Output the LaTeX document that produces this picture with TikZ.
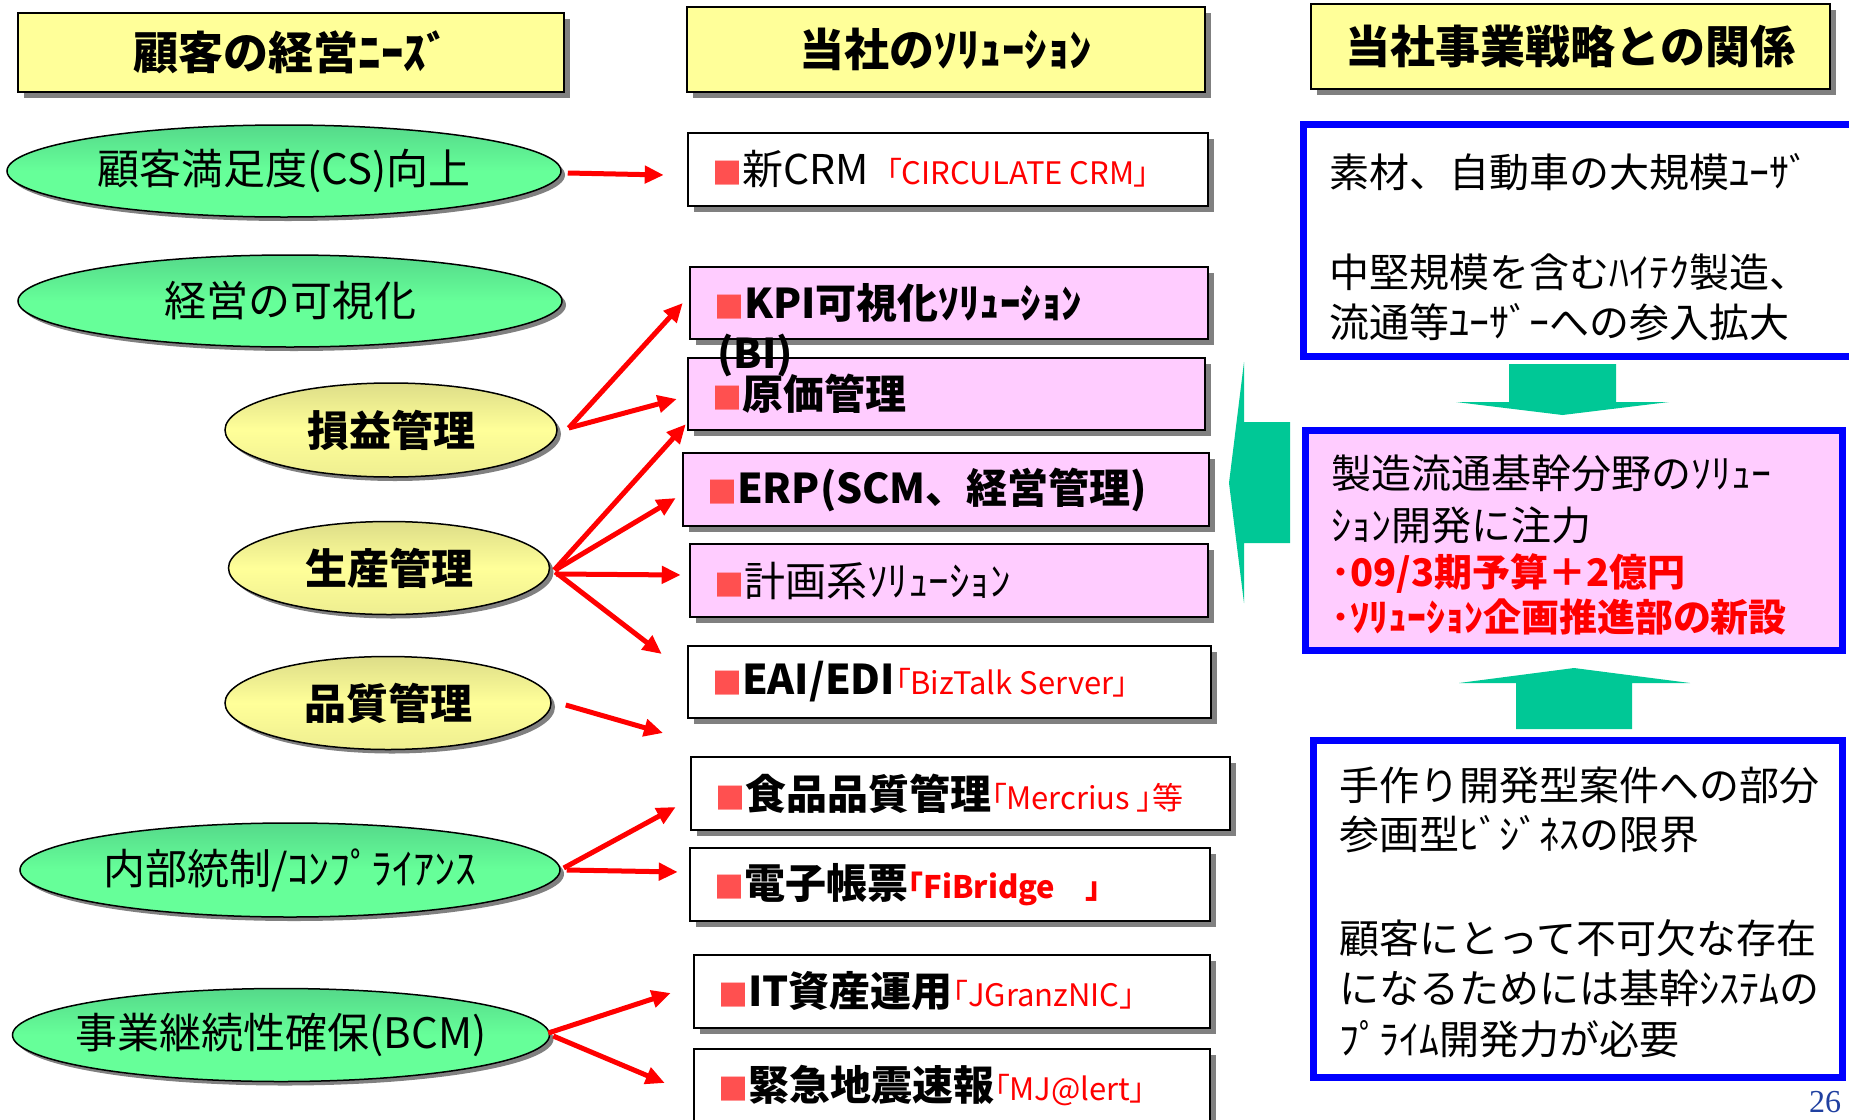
\documentclass[tikz,border=0pt]{standalone}
\usepackage{fontspec}
\setmainfont{Noto Sans CJK JP}
\newfontfamily\jpp{Noto Sans CJK JP}[RawFeature=+palt]
\newfontfamily\pgfnt{Liberation Serif}
\usetikzlibrary{shapes.geometric,shadows,arrows.meta,calc}
\definecolor{hdr}{HTML}{FFFF99}
\definecolor{pinkf}{HTML}{FFCCFF}
\definecolor{greenE}{HTML}{66FF99}
\definecolor{greenT}{HTML}{55D98A}
\definecolor{yelE}{HTML}{FFFF99}
\definecolor{yelT}{HTML}{DDDD88}
\definecolor{arrgreen}{HTML}{00C896}
\definecolor{sq}{HTML}{FF5050}
\definecolor{shd}{HTML}{808080}
\definecolor{pgblue}{HTML}{2040A0}
\definecolor{bluebd}{HTML}{0000FF}
\newcommand{\fsH}{\fontsize{45}{54}\selectfont}
\newcommand{\fsE}{\fontsize{42}{50}\selectfont}
\newcommand{\fsS}{\fontsize{41}{49}\selectfont}
\newcommand{\fsR}{\fontsize{31}{37}\selectfont}
\newcommand{\fsP}{\fontsize{40}{48}\selectfont}
\newcommand{\sqm}{{\fontsize{30}{30}\selectfont\color{sq}■}}
\newcommand{\redt}{\jpp\fsR\color{red}}
\newcommand{\lefttext}[2]{\makebox[#1][l]{#2}}
\begin{document}
\begin{tikzpicture}[x=1pt,y=-1pt,
  hdrbox/.style={draw=black, line width=2pt, fill=hdr, inner sep=0pt, font=\fsH\bfseries,
    drop shadow={shadow xshift=6pt, shadow yshift=-6pt, fill=shd, opacity=1}},
  gell/.style={ellipse, draw=black, line width=1.5pt, top color=greenT, bottom color=greenE, middle color=greenE, inner sep=0pt, font=\fsE,
    drop shadow={shadow xshift=4pt, shadow yshift=-4pt, fill=shd, opacity=1}},
  yell/.style={ellipse, draw=black, line width=1.5pt, top color=yelT, bottom color=yelT!50!yelE, middle color=yelE, inner sep=0pt, font=\fsE\bfseries,
    drop shadow={shadow xshift=4pt, shadow yshift=-4pt, fill=shd, opacity=1}},
  solbox/.style={draw=black, line width=2.5pt, fill=white, inner sep=0pt, font=\fsS,
    drop shadow={shadow xshift=6pt, shadow yshift=-6pt, fill=shd, opacity=1}},
  pinkbox/.style={solbox, fill=pinkf},
  bluebox/.style={draw=bluebd, line width=7pt, fill=white, inner sep=0pt},
  rline/.style={anchor=west, inner sep=0pt, font=\fsP},
  redline/.style={anchor=west, inner sep=0pt, text=red, font=\jpp\fontsize{38}{46}\selectfont\bfseries},
  redarr/.style={draw=red, line width=5pt, -{Triangle[length=19pt,width=17pt]}},
  blockarr/.style={fill=arrgreen, draw=none}
]
\useasboundingbox (0,0) rectangle (1849,1119);
\fill[white] (0,0) rectangle (1849,1119);

% headers
\node[hdrbox, minimum width=546pt, minimum height=79pt] (h1) at (291,52.5) {顧客の経営ﾆｰｽﾞ};
\node[hdrbox, minimum width=518pt, minimum height=85pt] (h2) at (946,49.5) {当社のｿﾘｭｰｼｮﾝ};
\node[hdrbox, minimum width=519pt, minimum height=85pt] (h3) at (1570.5,46.5) {当社事業戦略との関係};

% needs ellipses
\node[gell, minimum width=554pt, minimum height=92pt] (e1) at (284,171) {\makebox[0pt]{顧客満足度(CS)向上}};
\node[gell, minimum width=544pt, minimum height=92pt] (e2) at (290,301) {\makebox[0pt]{経営の可視化}};
\node[yell, minimum width=332pt, minimum height=94pt] (e3) at (391,430) {\makebox[0pt]{損益管理}};
\node[yell, minimum width=321pt, minimum height=93pt] (e4) at (389,568) {\makebox[0pt]{生産管理}};
\node[yell, minimum width=326pt, minimum height=93pt] (e5) at (388,703) {\makebox[0pt]{品質管理}};
\node[gell, minimum width=540pt, minimum height=94pt] (e6) at (290,870) {\makebox[0pt]{内部統制/ｺﾝﾌﾟﾗｲｱﾝｽ}};
\node[gell, minimum width=537pt, minimum height=93pt] (e7) at (281,1035) {\makebox[0pt]{事業継続性確保(BCM)}};

% solution boxes
\node[solbox, minimum width=520pt, minimum height=73pt] (s1) at (948,169.5)
  {\lefttext{472pt}{\sqm 新CRM\hspace{18pt}{\redt 「CIRCULATE CRM」}}};
\node[pinkbox, minimum width=518pt, minimum height=72pt] (s2) at (949,303)
  {\lefttext{470pt}{\bfseries\sqm KPI可視化ｿﾘｭｰｼｮﾝ}};
\node[pinkbox, minimum width=517pt, minimum height=72pt] (s3) at (946.5,394)
  {\lefttext{469pt}{\bfseries\sqm 原価管理}};
\node[pinkbox, minimum width=526pt, minimum height=73pt] (s4) at (946,489.5)
  {\lefttext{478pt}{\bfseries\sqm ERP(SCM、経営管理)}};
\node[pinkbox, minimum width=518pt, minimum height=73pt] (s5) at (949,580.5)
  {\lefttext{470pt}{\sqm 計画系ｿﾘｭｰｼｮﾝ}};
\node[solbox, minimum width=523pt, minimum height=72pt] (s6) at (949.5,682)
  {\lefttext{475pt}{\bfseries\sqm EAI/EDI{\mdseries\redt 「BizTalk Server」}}};
\node[solbox, minimum width=539pt, minimum height=73pt] (s7) at (960.5,793.5)
  {\lefttext{491pt}{\bfseries\sqm 食品品質管理{\mdseries\redt 「Mercrius 」等}}};
\node[solbox, minimum width=520pt, minimum height=73pt] (s8) at (950,884.5)
  {\lefttext{472pt}{\bfseries\sqm 電子帳票{\redt 「FiBridge　」}}};
\node[solbox, minimum width=516pt, minimum height=73pt] (s9) at (952,991.5)
  {\lefttext{468pt}{\bfseries\sqm IT資産運用{\mdseries\redt 「JGranzNIC」}}};
\node[solbox, minimum width=516pt, minimum height=73pt] (s10) at (952,1085.5)
  {\lefttext{468pt}{\bfseries\sqm 緊急地震速報{\mdseries\redt 「MJ@lert」}}};
\node[anchor=west, inner sep=0pt, font=\fsS\bfseries] (bi) at (717,355) {(BI)};

% red connectors
\coordinate (q5) at (663,733);
\draw[redarr] ($(e1.east)+(6,2)$) -- ($(s1.west)+(-23,5.5)$);
\draw[redarr] ($(e3.east)+(11,-2)$) -- ($(s2.west)+(-6,0)$);
\draw[redarr] ($(e3.east)+(11,-2)$) -- ($(s3.west)+(-10,5)$);
\draw[redarr] ($(e4.east)+(4,2)$) -- ($(s3.south west)+(-1,-7)$);
\draw[redarr] ($(e4.east)+(5,2)$) -- ($(s4.west)+(-6,8.5)$);
\draw[redarr] ($(e4.east)+(6,6)$) -- ($(s5.west)+(-8,-5.5)$);
\draw[redarr] ($(e4.east)+(5,4)$) -- ($(s6.west)+(-25,-28)$);
\draw[redarr] ($(e5.east)+(14,2)$) -- (q5);
\draw[redarr] ($(e6.east)+(3,-2)$) -- ($(s7.west)+(-14,13.5)$);
\draw[redarr] ($(e6.east)+(6,0)$) -- ($(s8.west)+(-11,-12.5)$);
\draw[redarr] ($(e7.east)+(-2,-2)$) -- ($(s9.west)+(-22,1.5)$);
\draw[redarr] ($(e7.east)+(3,1)$) -- ($(s10.west)+(-28,-2.5)$);

% right panel boxes
\node[bluebox, minimum width=557pt, minimum height=232pt] (r1) at (1582,240.5) {};
\node[bluebox, fill=pinkf, minimum width=537pt, minimum height=220pt] (r2) at (1574,540.5) {};
\node[bluebox, minimum width=529pt, minimum height=337pt] (r3) at (1578,909) {};

\node[rline] (r1a) at (1329,172) {素材、自動車の大規模ﾕｰｻﾞ};
\node[rline] (r1b) at (1329,272) {中堅規模を含むﾊｲﾃｸ製造、};
\node[rline] (r1c) at (1329,322) {流通等ﾕｰｻﾞｰへの参入拡大};

\node[rline] (r2a) at (1331,473) {製造流通基幹分野のｿﾘｭｰ};
\node[rline] (r2b) at (1331,525) {ｼｮﾝ開発に注力};
\node[redline] (r2c) at (1331,574) {･09/3期予算＋2億円};
\node[redline] (r2d) at (1331,617) {･ｿﾘｭｰｼｮﾝ企画推進部の新設};

\node[rline] (r3a) at (1339,785) {手作り開発型案件への部分};
\node[rline] (r3b) at (1339,834) {参画型ﾋﾞｼﾞﾈｽの限界};
\node[rline] (r3c) at (1339,938) {顧客にとって不可欠な存在};
\node[rline] (r3d) at (1339,988) {になるためには基幹ｼｽﾃﾑの};
\node[rline] (r3e) at (1339,1039) {ﾌﾟﾗｲﾑ開発力が必要};

% block arrows
\fill[blockarr] (1509,364) -- (1616,364) -- (1616,402) -- (1669,402) -- (1562.5,415) -- (1456,402) -- (1509,402) -- cycle;
\fill[blockarr] (1516,729) -- (1632,729) -- (1632,683) -- (1690,683) -- (1574,668) -- (1459,683) -- (1516,683) -- cycle;
\fill[blockarr] (1290,422) -- (1290,543) -- (1244,543) -- (1244,603) -- (1229,483) -- (1244,362) -- (1244,422) -- cycle;

% page number
\node[anchor=north west, inner sep=0pt, font=\pgfnt\fontsize{32}{32}\selectfont, text=pgblue] (pg) at (1809,1091) {26};
\end{tikzpicture}
\end{document}
